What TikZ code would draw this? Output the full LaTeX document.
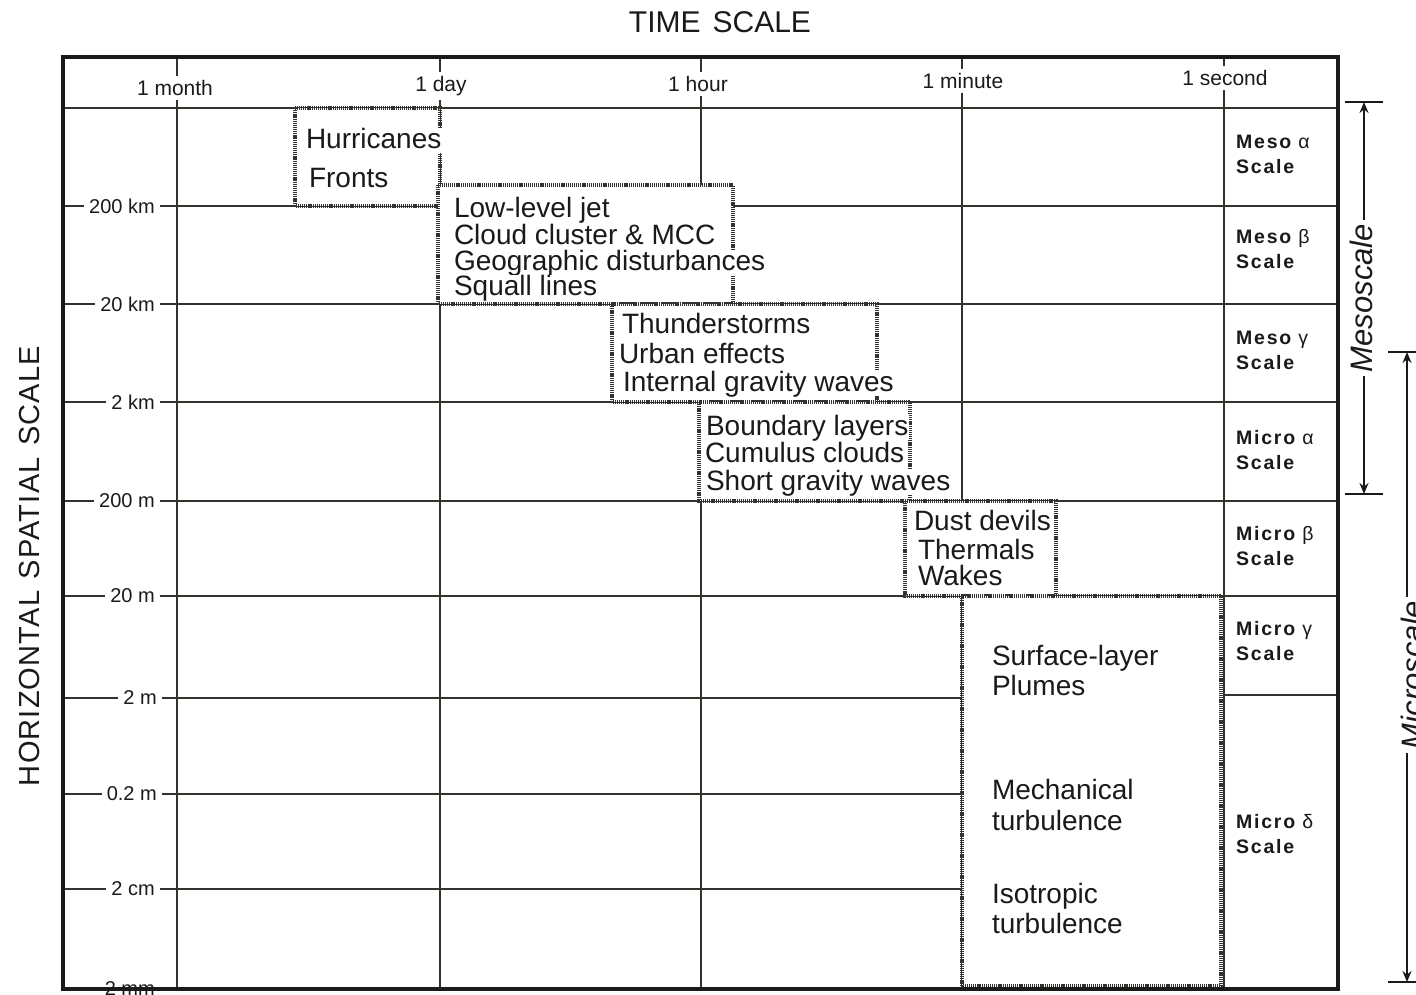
\documentclass[tikz,border=0pt]{standalone}
\usepackage{fontspec}
\setmainfont{Liberation Sans}
\newfontfamily\spacedfont[LetterSpace=4]{Liberation Sans}
\newfontfamily\scalefnt[LetterSpace=9]{Liberation Sans}
\usetikzlibrary{arrows.meta}
\definecolor{ink}{HTML}{1C1A18}
\definecolor{gridc}{HTML}{35312D}
\definecolor{dotc}{HTML}{34312E}
\begin{document}
\begin{tikzpicture}[x=1pt,y=-1pt,
  frame/.style={draw=ink,line width=3.6pt},
  hline/.style={draw=gridc,line width=2.8pt},
  vline/.style={draw=gridc,line width=2.3pt},
  evbox/.style={draw=dotc,fill=white,line width=3.2pt,dash pattern=on 1.2pt off 0.9pt},
  evtext/.style={anchor=base west,fill=white,inner sep=0.8pt,text height=19pt,text depth=4pt,font=\fontsize{28}{30}\selectfont,text=ink},
  tlabel/.style={fill=white,inner xsep=2pt,inner ysep=4pt,font=\fontsize{21}{23}\selectfont,text=ink},
  slabel/.style={anchor=east,fill=white,inner xsep=5pt,inner ysep=1pt,font=\fontsize{20}{22}\selectfont,text=ink},
  rowlabel/.style={anchor=west,align=left,font=\scalefnt\bfseries\fontsize{19.5}{25}\selectfont,text=ink,inner sep=0pt},
  bar/.style={draw=ink,line width=2pt},
  span/.style={draw=ink,line width=2pt,{Stealth[length=11pt,width=9pt]}-{Stealth[length=11pt,width=9pt]}},
  scalename/.style={rotate=90,fill=white,inner xsep=4pt,inner ysep=0pt,font=\itshape\fontsize{31}{33}\selectfont,text=ink},
]
\useasboundingbox (0,0) rectangle (1416,994);
\fill[white] (0,0) rectangle (1416,994);

% titles
\node[font=\fontsize{30}{32}\selectfont,text=ink] (title) at (720,22) {TIME\hspace{0.4em}SCALE};
\node[rotate=90,font=\spacedfont\fontsize{29}{31}\selectfont,text=ink] (ylab) at (30,566) {HORIZONTAL\hspace{0.4em}SPATIAL\hspace{0.4em}SCALE};

% grid
\draw[hline] (63,108) -- (1338,108);
\foreach \y in {206,304,402,501,596} \draw[hline] (63,\y) -- (1338,\y);
\foreach \y in {698,794,889} \draw[hline] (63,\y) -- (962,\y);
\draw[hline] (1224,695) -- (1338,695);
\foreach \x in {177,440,701,962,1224} \draw[vline] (\x,57) -- (\x,989);

% spatial labels
\node[slabel] (l1) at (160,206) {200 km};
\node[slabel] (l2) at (160,304) {20 km};
\node[slabel] (l3) at (160,402) {2 km};
\node[slabel] (l4) at (160,501) {200 m};
\node[slabel] (l5) at (160,596) {20 m};
\node[slabel] (l6) at (162,698) {2 m};
\node[slabel] (l7) at (162,794) {0.2 m};
\node[slabel] (l8) at (160,889) {2 cm};
\node[slabel] (l9) at (160,989) {2 mm};

% time labels
\node[tlabel] (h1) at (175,88) {1 month};
\node[tlabel] (h2) at (441,86) {1 day};
\node[tlabel] (h3) at (698,84) {1 hour};
\node[tlabel] (h4) at (963,81) {1 minute};
\node[tlabel] (h5) at (1225,78) {1 second};

% phenomenon boxes
\draw[evbox] (295,108) rectangle (440,206);
\draw[evbox] (438,185) rectangle (733,304);
\draw[evbox] (612,304) rectangle (877,402);
\draw[evbox] (699,402) rectangle (910,501);
\draw[evbox] (905,501) rectangle (1056,596);
\draw[evbox] (962,596) rectangle (1221,986);

\node[evtext] (a1) at (305,148) {Hurricanes};
\node[evtext] (a2) at (308,187) {Fronts};

\node[evtext] (b1) at (453,217) {Low-level jet};
\node[evtext] (b2) at (453,244) {Cloud cluster \& MCC};
\node[evtext] (b3) at (453,270) {Geographic disturbances};
\node[evtext] (b4) at (453,295) {Squall lines};

\node[evtext] (c1) at (621,333) {Thunderstorms};
\node[evtext] (c2) at (618,363) {Urban effects};
\node[evtext] (c3) at (622,391) {Internal gravity waves};

\node[evtext] (d1) at (705,435) {Boundary layers};
\node[evtext] (d2) at (704,462) {Cumulus clouds};
\node[evtext] (d3) at (705,490) {Short gravity waves};

\node[evtext] (e1) at (913,530) {Dust devils};
\node[evtext] (e2) at (917,559) {Thermals};
\node[evtext] (e3) at (917,585) {Wakes};

\node[evtext] (f1) at (991,665) {Surface-layer};
\node[evtext] (f2) at (991,695) {Plumes};
\node[evtext] (f3) at (991,799) {Mechanical};
\node[evtext] (f4) at (991,830) {turbulence};
\node[evtext] (f5) at (991,903) {Isotropic};
\node[evtext] (f6) at (991,933) {turbulence};

% scale column
\node[rowlabel] (r1) at (1236,154) {Meso {\mdseries α}\\Scale};
\node[rowlabel] (r2) at (1236,249) {Meso {\mdseries β}\\Scale};
\node[rowlabel] (r3) at (1236,350) {Meso {\mdseries γ}\\Scale};
\node[rowlabel] (r4) at (1236,450) {Micro {\mdseries α}\\Scale};
\node[rowlabel] (r5) at (1236,546) {Micro {\mdseries β}\\Scale};
\node[rowlabel] (r6) at (1236,641) {Micro {\mdseries γ}\\Scale};
\node[rowlabel] (r7) at (1236,834) {Micro {\mdseries δ}\\Scale};

% mesoscale / microscale ranges
\coordinate (mt) at (1364,102);
\coordinate (mb) at (1364,494);
\draw[bar] (1345,102) -- (1383,102);
\draw[bar] (1345,494) -- (1383,494);
\draw[span] (mt) -- (mb);
\node[scalename] (meso) at (1361,298) {Mesoscale};

\coordinate (ut) at (1407,352);
\coordinate (ub) at (1407,982);
\draw[bar] (1388,352) -- (1416,352);
\draw[bar] (1388,982) -- (1416,982);
\draw[span] (ut) -- (ub);
\node[scalename] (micro) at (1412,675) {Microscale};

% outer frame
\draw[frame] (63,57) rectangle (1338,989);
\end{tikzpicture}
\end{document}
